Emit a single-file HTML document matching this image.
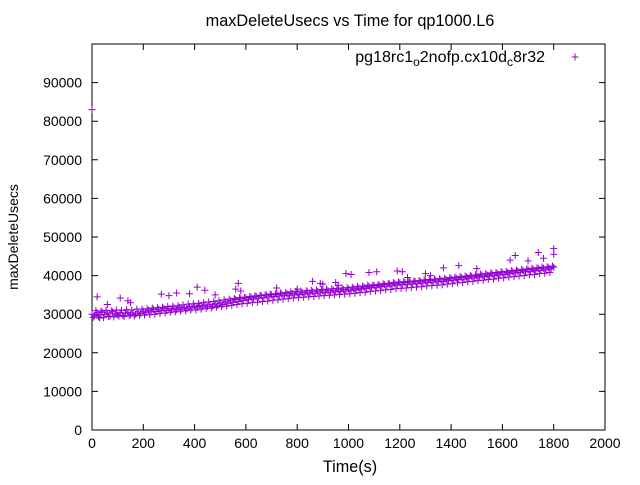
<!DOCTYPE html>
<html><head><meta charset="utf-8"><style>
body{margin:0;background:#fff}
svg text{font-family:"Liberation Sans",sans-serif;fill:#000}
</style></head><body>
<svg id="chart" width="640" height="480" xmlns="http://www.w3.org/2000/svg">
<text x="350" y="26" text-anchor="middle" font-size="16.3">maxDeleteUsecs vs Time for qp1000.L6</text>
<text transform="translate(18,237) rotate(-90)" text-anchor="middle" font-size="14">maxDeleteUsecs</text>
<text x="350" y="472" text-anchor="middle" font-size="16.2">Time(s)</text>
<g id="axes"></g>
<g id="points"></g>
<g>
<text x="545" y="62" text-anchor="end" font-size="16">pg18rc1<tspan font-size="12" dy="4">o</tspan><tspan dy="-4">2nofp.cx10d</tspan><tspan font-size="12" dy="4">c</tspan><tspan dy="-4">8r32</tspan></text>
<path d="M571.5,57h7M575,53.5v7" stroke="#9400d3" stroke-width="1"/>
</g>
</svg>
<script>
const xTicks=[0,200,400,600,800,1000,1200,1400,1600,1800,2000];
const yTicks=[0,10000,20000,30000,40000,50000,60000,70000,80000,90000];
const seriesValuesK=[30.0,29.6,30.4,29.8,30.5,29.9,30.3,29.5,30.6,30.1,29.8,
30.4,29.7,30.2,30.5,29.9,30.3,30.0,30.6,30.2,30.8,
30.4,31.0,30.6,31.2,30.7,31.3,30.9,31.5,31.0,31.4,
31.1,31.6,31.2,31.8,31.3,31.7,31.4,32.0,31.6,32.1,
31.8,32.3,31.9,32.4,32.0,32.5,32.1,32.7,32.3,32.9,
32.5,33.2,32.8,33.5,33.1,33.8,33.3,34.0,33.6,34.2,
33.8,34.4,34.0,34.6,34.2,34.8,34.3,34.9,34.5,35.0,
34.6,35.1,34.7,35.2,34.8,35.3,34.9,35.4,35.0,35.5,
35.1,35.6,35.2,35.7,35.3,35.8,35.4,35.9,35.5,36.0,
35.6,36.1,35.7,36.2,35.8,36.3,35.9,36.4,36.0,36.5,
36.1,36.6,36.3,36.8,36.5,37.0,36.7,37.2,36.9,37.4,
37.0,37.5,37.2,37.7,37.3,37.8,37.4,37.9,37.6,38.1,
37.7,38.2,37.8,38.3,37.9,38.4,38.0,38.5,38.1,38.6,
38.2,38.7,38.3,38.8,38.4,38.9,38.5,39.0,38.7,39.2,
38.8,39.3,39.0,39.5,39.1,39.6,39.3,39.8,39.4,39.9,
39.6,40.1,39.7,40.2,39.9,40.4,40.0,40.5,40.2,40.7,
40.3,40.8,40.5,41.0,40.7,41.2,40.8,41.3,41.0,41.5,
41.1,41.6,41.3,41.8,41.4,41.9,41.5,42.0,41.7,42.2];
const seriesStep=10;
const series2ValuesK=[29.2,30.9,29.3,30.8,29.1,31.0,29.4,30.9,29.3,31.1,29.5,31.0,29.4,31.2,29.6,31.1,29.5,31.3,29.7,31.3,
29.8,31.4,29.9,31.6,30.0,31.7,30.2,31.8,30.3,32.0,30.5,32.1,30.6,32.2,30.8,32.4,30.9,32.6,31.1,32.7,
31.1,32.8,31.3,33.0,31.5,33.2,31.6,33.3,31.8,33.5,32.0,33.7,32.1,33.9,32.3,34.1,32.5,34.3,32.7,34.4,
32.8,34.6,33.0,34.7,33.1,34.9,33.3,35.0,33.4,35.2,33.6,35.3,33.7,35.5,33.9,35.6,34.0,35.8,34.2,35.9,
34.3,36.0,34.4,36.1,34.5,36.2,34.6,36.3,34.7,36.4,34.8,36.5,34.9,36.6,35.0,36.7,35.1,36.8,35.2,36.9,
35.3,37.0,35.4,37.2,35.6,37.3,35.7,37.5,35.9,37.6,36.0,37.7,36.1,37.9,36.3,38.0,36.4,38.2,36.6,38.3,
36.7,38.4,36.8,38.5,36.9,38.6,37.0,38.7,37.1,38.9,37.3,39.0,37.4,39.1,37.5,39.2,37.6,39.3,37.8,39.5,
37.9,39.6,38.1,39.8,38.2,39.9,38.4,40.1,38.5,40.2,38.7,40.4,38.8,40.5,39.0,40.7,39.1,40.8,39.3,41.0,
39.4,41.1,39.6,41.3,39.7,41.4,39.9,41.6,40.0,41.7,40.2,41.9,40.3,42.0,40.5,42.2,40.6,42.3,40.8,42.5];
const series2Start=5;
const outlierTimes=[0,20,30,60,110,140,150,270,300,330,380,410,440,480,560,570,580,720,800,860,890,900,950,960,990,1010,1080,1110,1190,1210,1230,1300,1320,1370,1430,1500,1630,1650,1700,1740,1760,1800,1800];
const outlierValues=[83000,34500,29000,32500,34200,33500,33000,35200,34800,35500,35300,37000,36200,35000,36500,38000,36000,36800,36500,38500,38000,37800,38200,37500,40500,40300,40800,41000,41200,41000,39500,40500,40000,42000,42600,41800,44000,45200,43800,46000,44500,47000,45500];
const L=92,R=605,T=44,B=430;
const xs=v=>L+(v-0)/2000*(R-L);
const ys=v=>B-(v/100000)*(B-T);
const NS="http://www.w3.org/2000/svg";
const axes=document.getElementById('axes');
function mk(tag,attrs,parent){const e=document.createElementNS(NS,tag);for(const k in attrs)e.setAttribute(k,attrs[k]);parent.appendChild(e);return e;}
const frame=mk('rect',{x:L,y:T,width:R-L,height:B-T,fill:'none',stroke:'#000','stroke-width':1},axes);


xTicks.forEach(t=>{const x=xs(t);
 const p=mk('path',{d:`M${x},${B}v-6M${x},${T}v6`,stroke:'#000'},axes);
 
 
 const tx=mk('text',{x:x,y:B+18,'text-anchor':'middle','font-size':14},axes);tx.textContent=t;
 
 });
yTicks.forEach(t=>{const y=ys(t);
 const p=mk('path',{d:`M${L},${y}h6M${R},${y}h-6`,stroke:'#000'},axes);
 
 
 const tx=mk('text',{x:L-10,y:y+5,'text-anchor':'end','font-size':14},axes);tx.textContent=t;
 
 });
const pts=document.getElementById('points');
function cross(t,v){const x=xs(t),y=ys(v);
 const p=mk('path',{d:`M${x-3.5},${y}h7M${x},${y-3.5}v7`,stroke:'#9400d3','stroke-width':1},pts);
 
 }
seriesValuesK.forEach((v,i)=>{cross(i*seriesStep,v*1000);});
series2ValuesK.forEach((v,i)=>{cross(series2Start+i*seriesStep,v*1000);});
outlierTimes.forEach((t,i)=>cross(t,outlierValues[i]));
</script>
</body></html>
